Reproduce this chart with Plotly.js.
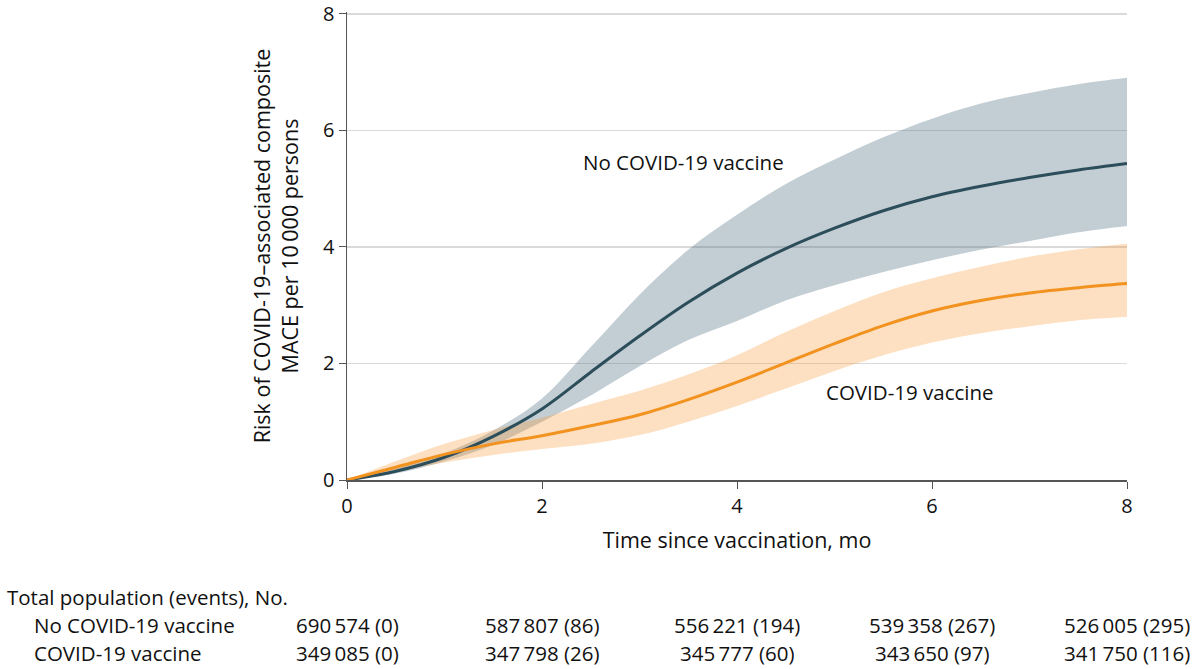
<!DOCTYPE html>
<html>
<head>
<meta charset="utf-8">
<script src="https://cdn.plot.ly/plotly-3.0.1.min.js"></script>
<style>
  html, body { margin: 0; padding: 0; background: #fff; }
  #chart { width: 1200px; height: 669px; }
</style>
</head>
<body>
<div id="chart"></div>
<script>
// ── Data ──────────────────────────────────────────────────────────────────
const months = [0, 0.5, 1, 1.5, 2, 2.5, 3, 3.5, 4, 4.5, 5, 5.5, 6, 6.5, 7, 7.5, 8];

const noVaxRisk  = [0, 0.15, 0.39, 0.75, 1.22, 1.85, 2.47, 3.05, 3.55, 3.97, 4.32, 4.62, 4.86, 5.04, 5.19, 5.32, 5.43];
const noVaxUpper = [0, 0.20, 0.46, 0.85, 1.40, 2.28, 3.18, 3.95, 4.55, 5.08, 5.50, 5.88, 6.20, 6.46, 6.64, 6.79, 6.90];
const noVaxLower = [0, 0.11, 0.32, 0.60, 1.00, 1.45, 1.95, 2.40, 2.73, 3.08, 3.34, 3.57, 3.77, 3.95, 4.10, 4.25, 4.36];

const vaxRisk  = [0, 0.22, 0.44, 0.62, 0.76, 0.93, 1.12, 1.38, 1.68, 2.01, 2.34, 2.65, 2.90, 3.08, 3.21, 3.30, 3.37];
const vaxUpper = [0, 0.32, 0.62, 0.86, 1.07, 1.30, 1.53, 1.81, 2.14, 2.54, 2.90, 3.22, 3.46, 3.66, 3.83, 3.96, 4.06];
const vaxLower = [0, 0.14, 0.30, 0.43, 0.53, 0.62, 0.77, 1.00, 1.27, 1.57, 1.87, 2.14, 2.36, 2.52, 2.64, 2.74, 2.80];

// number-at-risk table
const tableMonths = [0, 2, 4, 6, 8];
const tableHeader = 'Total population (events), No.';
const rowLabels   = ['No COVID-19 vaccine', 'COVID-19 vaccine'];
const noVaxAtRisk = ['690\u2009574 (0)', '587\u2009807 (86)', '556\u2009221 (194)', '539\u2009358 (267)', '526\u2009005 (295)'];
const vaxAtRisk   = ['349\u2009085 (0)', '347\u2009798 (26)', '345\u2009777 (60)', '343\u2009650 (97)', '341\u2009750 (116)'];

const xTicks = [0, 2, 4, 6, 8];
const yTicks = [0, 2, 4, 6, 8];

// ── Styling ───────────────────────────────────────────────────────────────
const FONT   = 'Open Sans, Noto Sans, sans-serif';
const DARK   = '#2c4d5a';
const ORANGE = '#f2921f';
const PLOT_L = 347, PLOT_W = 780;   // px, used to place the table row labels

// lower edge (no fill) followed by upper edge filled down to it
function band(xs, lo, hi, fill) {
  const common = {x: xs, mode: 'lines', hoverinfo: 'skip', showlegend: false};
  return [
    Object.assign({}, common, {y: lo, line: {width: 0, shape: 'spline'}}),
    Object.assign({}, common, {y: hi, line: {width: 0, shape: 'spline'}, fill: 'tonexty', fillcolor: fill}),
  ];
}

const traces = [
  ...band(months, noVaxLower, noVaxUpper, 'rgba(69,104,120,0.32)'),
  ...band(months, vaxLower, vaxUpper, 'rgba(247,150,50,0.30)'),
  {x: months, y: noVaxRisk, mode: 'lines', line: {color: DARK, width: 3, shape: 'spline'}, showlegend: false},
  {x: months, y: vaxRisk,   mode: 'lines', line: {color: ORANGE, width: 3, shape: 'spline'}, showlegend: false},
];

// Row y-positions (paper units, below the plot)
const headerY = -0.284;
const rowY    = [-0.344, -0.404];
const tfont   = {size: 20.5, color: '#111', family: FONT};

const annotations = [
  {x: 3.45, y: 5.46, xref: 'x', yref: 'y', text: 'No COVID-19 vaccine', showarrow: false, font: tfont},
  {x: 5.77, y: 1.51, xref: 'x', yref: 'y', text: 'COVID-19 vaccine', showarrow: false, font: tfont},
  {x: (5 - PLOT_L) / PLOT_W, y: headerY, xref: 'paper', yref: 'paper', text: tableHeader,
   showarrow: false, xanchor: 'left', font: tfont},
];

rowLabels.forEach((lab, r) => {
  annotations.push({x: (32 - PLOT_L) / PLOT_W, y: rowY[r], xref: 'paper', yref: 'paper', text: lab,
    showarrow: false, xanchor: 'left', font: tfont});
});
[noVaxAtRisk, vaxAtRisk].forEach((row, r) => {
  row.forEach((txt, i) => {
    annotations.push({x: tableMonths[i], y: rowY[r], xref: 'x', yref: 'paper', text: txt,
      showarrow: false, xanchor: 'center', font: tfont});
  });
});

const layout = {
  width: 1200,
  height: 669,
  margin: {l: PLOT_L, r: 1200 - PLOT_L - PLOT_W, t: 12, b: 189},
  paper_bgcolor: '#fff',
  plot_bgcolor: '#fff',
  font: {family: FONT, color: '#111', size: 20},
  showlegend: false,
  hovermode: false,
  xaxis: {
    range: [0, 8],
    tickvals: xTicks,
    showgrid: false,
    zeroline: false,
    showline: true,
    linecolor: '#555',
    linewidth: 1.5,
    ticks: 'outside',
    ticklen: 7,
    tickcolor: '#555',
    tickfont: {size: 20},
    ticklabeloverflow: 'allow',
    title: {text: 'Time since vaccination, mo', font: {size: 21.5}, standoff: 15},
  },
  yaxis: {
    range: [0, 8.03],
    tickvals: yTicks,
    showgrid: true,
    gridcolor: '#dadada',
    gridwidth: 1.5,
    zeroline: false,
    showline: true,
    linecolor: '#555',
    linewidth: 1.5,
    ticks: 'outside',
    ticklen: 7,
    tickcolor: '#555',
    tickfont: {size: 20},
    ticklabeloverflow: 'allow',
    title: {text: 'Risk of COVID-19\u2013associated composite<br>MACE per 10\u2009000 persons',
            font: {size: 21.5}, standoff: 18},
  },
  annotations: annotations,
};

Plotly.newPlot('chart', traces, layout, {displayModeBar: false, staticPlot: true});
</script>
</body>
</html>
